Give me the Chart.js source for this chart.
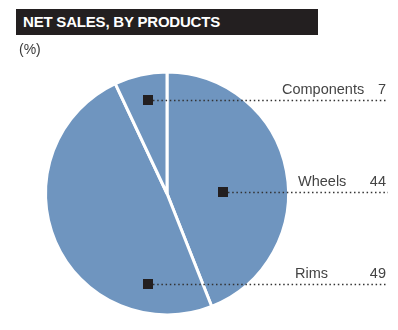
<!DOCTYPE html>
<html>
<head>
<meta charset="utf-8">
<script src="https://cdn.jsdelivr.net/npm/chart.js@4"></script>
<style>
  body { margin: 0; background: #fff; font-family: "Liberation Sans", Arial, sans-serif; }
  #wrap { position: relative; width: 398px; height: 330px; }
  #title {
    position: absolute; left: 16px; top: 9px; width: 295px; height: 26px;
    background: #231f20; color: #fff; font-weight: bold; font-size: 15px;
    letter-spacing: -0.2px; line-height: 26px; padding-left: 7px;
  }
  #unit { position: absolute; left: 19px; top: 41px; font-size: 14px; color: #3a3a3a; }
  canvas { position: absolute; left: 0; top: 0; }
</style>
</head>
<body>
<div id="wrap">
  <canvas id="pie" width="398" height="330"></canvas>
  <div id="title">NET SALES, BY PRODUCTS</div>
  <div id="unit">(%)</div>
</div>
<script>
const categories = ["Wheels", "Rims", "Components"];
const shares = [44, 49, 7];

// where each marker sits, as fractions of the radius from the pie centre
const markerSpots = {
  Wheels: [0.455, -0.01],
  Rims: [-0.157, 0.735],
  Components: [-0.157, -0.76],
};
const nameX = { Wheels: 298, Rims: 295, Components: 282 };

const leaders = {
  id: "leaders",
  afterDraw(chart) {
    const ctx = chart.ctx;
    const arcs = chart.getDatasetMeta(0).data;
    const right = 388;
    ctx.save();
    arcs.forEach((arc, i) => {
      const name = categories[i];
      const { x, y, outerRadius } = arc.getProps(["x", "y", "outerRadius"], true);
      const r = outerRadius + 1.5;
      const mx = Math.round(x + markerSpots[name][0] * r);
      const my = Math.round(y + markerSpots[name][1] * r);

      // dotted leader
      ctx.strokeStyle = "#333";
      ctx.lineWidth = 1.5;
      ctx.setLineDash([1.5, 2.7]);
      ctx.beginPath();
      ctx.moveTo(mx + 5, my + 0.5);
      ctx.lineTo(right, my + 0.5);
      ctx.stroke();
      ctx.setLineDash([]);

      // marker
      ctx.fillStyle = "#231f20";
      ctx.fillRect(mx - 5, my - 5, 10, 10);

      // labels
      ctx.fillStyle = "#444";
      ctx.font = "14.5px 'Liberation Sans', Arial, sans-serif";
      ctx.textBaseline = "alphabetic";
      ctx.textAlign = "left";
      ctx.fillText(name, nameX[name], my - 6);
      ctx.textAlign = "right";
      ctx.fillText(String(shares[i]), 386, my - 6);
    });
    ctx.restore();
  },
};

new Chart(document.getElementById("pie"), {
  type: "pie",
  data: {
    labels: categories,
    datasets: [{
      data: shares,
      backgroundColor: "#6f95bf",
      borderColor: "#fff",
      borderWidth: 3,
      hoverOffset: 0,
    }],
  },
  options: {
    responsive: false,
    animation: false,
    layout: { padding: { left: 44, right: 108, top: 69, bottom: 12 } },
    plugins: { legend: { display: false }, tooltip: { enabled: false } },
  },
  plugins: [leaders],
});
</script>
</body>
</html>
